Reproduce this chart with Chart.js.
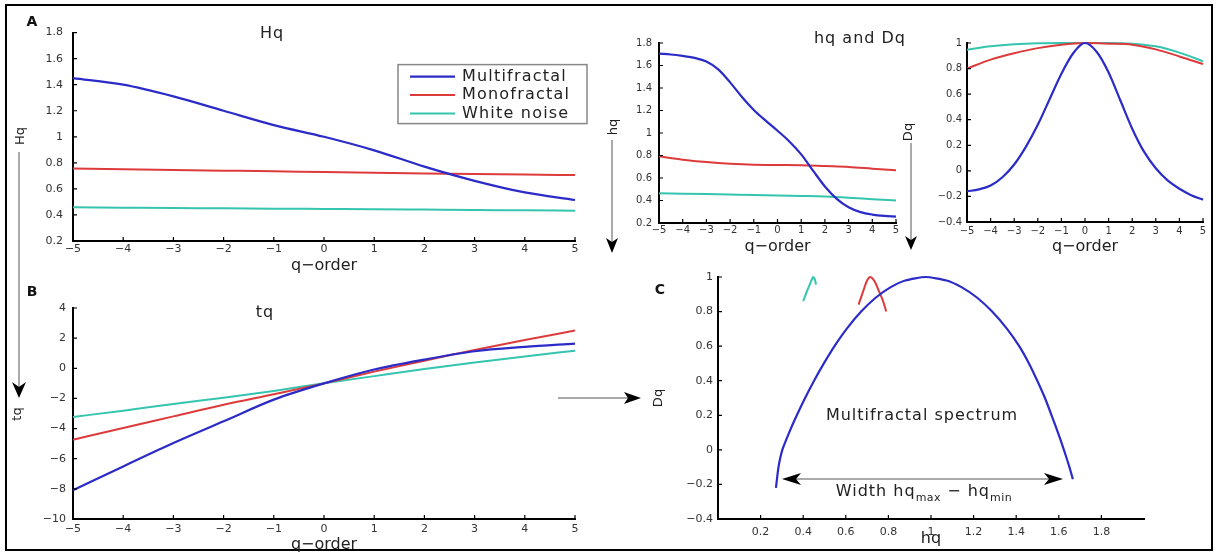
<!DOCTYPE html>
<html>
<head>
<meta charset="utf-8">
<script src="https://cdn.jsdelivr.net/npm/chart.js@4.4.1/dist/chart.umd.min.js"></script>
<style>
  html, body { margin: 0; padding: 0; background: #fff; overflow: hidden; }
  #stage { position: relative; width: 1217px; height: 555px; font-family: "DejaVu Sans", sans-serif; color: #222; }
  #stage canvas { position: absolute; }
  .t { position: absolute; transform: translate(-50%, -50%); white-space: nowrap; }
  .rot { transform: translate(-50%, -50%) rotate(-90deg); }
  .lbl { font-size: 16px; letter-spacing: 1px; }
  .yl { font-size: 13px; }
  .big { font-size: 16px; letter-spacing: 1px; }
  .letter { font-size: 14px; font-weight: bold; color: #111; }
  sub { font-size: 11px; vertical-align: -5px; letter-spacing: 0.5px; }
  #frame { position: absolute; left: 5px; top: 4px; width: 1204px; height: 543px; border: 2px solid #000; }
  svg { position: absolute; left: 0; top: 0; }
</style>
</head>
<body>
<div id="stage">
  <div id="frame"></div>
  <canvas id="chartA"></canvas>
  <canvas id="chartB"></canvas>
  <canvas id="chartH"></canvas>
  <canvas id="chartD"></canvas>
  <canvas id="chartC"></canvas>

  <svg width="1217" height="555">
    <g stroke="#555" stroke-width="1">
      <line x1="19" y1="152" x2="19" y2="388" />
      <line x1="612" y1="140" x2="612" y2="244" />
      <line x1="911" y1="143" x2="911" y2="242" />
      <line x1="558" y1="398" x2="630" y2="398" />
    </g>
    <line x1="790" y1="479" x2="1055" y2="479" stroke="#aaa" stroke-width="2" />
    <g fill="#000">
      <polygon points="12,382 19,398 26,382 19,387" />
      <polygon points="606,238 612,253 618,238 612,242" />
      <polygon points="905,236 911,250 917,236 911,240" />
      <polygon points="624,392 641,398 624,404 628,398" />
      <polygon points="782,479 801,473 796,479 801,485" />
      <polygon points="1063,479 1044,473 1049,479 1044,485" />
    </g>
  </svg>

  <div class="t letter" style="left:32px;top:21px">A</div>
  <div class="t letter" style="left:32px;top:291px">B</div>
  <div class="t letter" style="left:660px;top:289px">C</div>

  <div class="t lbl" style="left:272px;top:32px">Hq</div>
  <div class="t lbl" style="left:265px;top:311px">tq</div>
  <div class="t lbl" style="left:860px;top:37px">hq and Dq</div>

  <div class="t yl rot" style="left:19px;top:136px">Hq</div>
  <div class="t yl rot" style="left:16px;top:414px">tq</div>
  <div class="t yl rot" style="left:612px;top:127px">hq</div>
  <div class="t yl rot" style="left:907px;top:132px">Dq</div>
  <div class="t yl rot" style="left:657px;top:398px">Dq</div>

  <div class="t big" style="left:922px;top:414px">Multifractal spectrum</div>
  <div class="t big" style="left:924px;top:492px">Width hq<sub>max</sub> − hq<sub>min</sub></div>
</div>

<script>
// q values (integer and half steps)
const qInt = [-5, -4, -3, -2, -1, 0, 1, 2, 3, 4, 5];
const qHalf = [-5, -4.5, -4, -3.5, -3, -2.5, -2, -1.5, -1, -0.5, 0, 0.5, 1, 1.5, 2, 2.5, 3, 3.5, 4, 4.5, 5];

const seriesNames = ['Multifractal', 'Monofractal', 'White noise'];

// A: Hq
const HqMulti = [1.45, 1.40, 1.31, 1.20, 1.09, 1.0, 0.896, 0.771, 0.662, 0.573, 0.515];
const HqMono = [0.756, 0.750, 0.745, 0.740, 0.735, 0.729, 0.724, 0.719, 0.715, 0.710, 0.706];
const HqNoise = [0.459, 0.456, 0.453, 0.451, 0.448, 0.446, 0.444, 0.441, 0.438, 0.436, 0.433];

// B: tq
const tqMulti = [-8.1, -6.51, -4.96, -3.52, -2.08, -1.0, -0.08, 0.58, 1.13, 1.42, 1.64];
const tqMono = [-4.74, -3.96, -3.19, -2.42, -1.72, -1.0, -0.22, 0.50, 1.22, 1.88, 2.5];
const tqNoise = [-3.23, -2.81, -2.37, -1.95, -1.5, -1.0, -0.52, -0.05, 0.38, 0.78, 1.17];

// hq (half steps for multifractal)
const hqMulti = [1.705, 1.698, 1.685, 1.668, 1.635, 1.565, 1.45, 1.32, 1.205, 1.11, 1.02, 0.925, 0.81, 0.665, 0.525, 0.415, 0.34, 0.297, 0.275, 0.263, 0.257];
const hqMono = [0.793, 0.763, 0.742, 0.727, 0.718, 0.716, 0.714, 0.706, 0.698, 0.683, 0.668];
const hqNoise = [0.465, 0.461, 0.457, 0.453, 0.449, 0.444, 0.440, 0.435, 0.425, 0.412, 0.400];

// Dq (half steps for multifractal)
const DqMulti = [-0.16, -0.145, -0.115, -0.05, 0.05, 0.19, 0.36, 0.56, 0.76, 0.92, 1.0, 0.93, 0.77, 0.55, 0.33, 0.15, 0.02, -0.075, -0.14, -0.19, -0.225];
const DqMono = [0.80, 0.87, 0.92, 0.96, 0.987, 1.0, 0.995, 0.987, 0.95, 0.895, 0.836];
const DqNoise = [0.948, 0.974, 0.99, 0.998, 1.0, 1.0, 1.0, 0.995, 0.974, 0.925, 0.857];

// C: spectrum, Dq against hq
const specMultiH = [0.272, 0.284, 0.302, 0.334, 0.370, 0.409, 0.451, 0.497, 0.547, 0.604, 0.672, 0.740, 0.809, 0.879, 0.974,
  1.073, 1.145, 1.217, 1.287, 1.357, 1.414, 1.460, 1.499, 1.535, 1.566, 1.596, 1.624, 1.650, 1.666];
const specMultiD = [-0.22, -0.1, 0.0, 0.1, 0.2, 0.3, 0.4, 0.5, 0.6, 0.7, 0.8, 0.88, 0.94, 0.98, 1.0,
  0.98, 0.94, 0.88, 0.8, 0.7, 0.6, 0.5, 0.4, 0.3, 0.2, 0.1, 0.0, -0.1, -0.17];
const specMonoH = [0.66, 0.685, 0.70, 0.715, 0.735, 0.755, 0.775, 0.79];
const specMonoD = [0.84, 0.93, 0.98, 1.0, 0.975, 0.92, 0.86, 0.80];
const specNoiseH = [0.40, 0.415, 0.43, 0.447, 0.455, 0.46];
const specNoiseD = [0.86, 0.91, 0.955, 1.0, 0.985, 0.956];

const BLUE = '#2b2bc8';
const RED = '#dd3b3b';
const CYAN = '#35c4ae';
const FONT = '"DejaVu Sans", sans-serif';

function fmt(v) {
  return String(Math.round(v * 10) / 10).replace('-', '\u2212');
}

function series(label, xs, ys, color, width, smooth = 'monotone') {
  const ds = {
    label,
    data: xs.map((x, i) => ({ x, y: ys[i] })),
    borderColor: color,
    borderWidth: width,
    pointRadius: 0,
    fill: false,
    clip: 4
  };
  if (smooth === 'monotone') ds.cubicInterpolationMode = 'monotone';
  else ds.tension = smooth;
  return ds;
}

// MATLAB style ticks pointing into the plot
const inwardTicks = {
  id: 'inwardTicks',
  afterDraw(chart) {
    const { ctx, chartArea: a, scales: { x, y } } = chart;
    ctx.save();
    ctx.strokeStyle = '#000';
    ctx.lineWidth = 1.2;
    ctx.beginPath();
    x.ticks.forEach(t => {
      const p = x.getPixelForValue(t.value);
      ctx.moveTo(p, a.bottom);
      ctx.lineTo(p, a.bottom - 4);
    });
    y.ticks.forEach(t => {
      const p = y.getPixelForValue(t.value);
      ctx.moveTo(a.left, p);
      ctx.lineTo(a.left + 4, p);
    });
    ctx.stroke();
    ctx.restore();
  }
};

const boxLegend = {
  id: 'boxLegend',
  afterDraw(chart) {
    const { ctx, chartArea: a } = chart;
    const x = a.left + 325, y = a.top + 32, w = 189, h = 59;
    ctx.save();
    ctx.fillStyle = '#fff';
    ctx.fillRect(x, y, w, h);
    ctx.strokeStyle = '#888';
    ctx.lineWidth = 1.5;
    ctx.strokeRect(x, y, w, h);
    ctx.font = '16px ' + FONT;
    ctx.letterSpacing = '1.2px';
    ctx.textBaseline = 'middle';
    chart.data.datasets.forEach((ds, i) => {
      const ry = y + 12 + i * 18.5;
      ctx.strokeStyle = ds.borderColor;
      ctx.lineWidth = ds.borderWidth;
      ctx.beginPath();
      ctx.moveTo(x + 12, ry);
      ctx.lineTo(x + 57, ry);
      ctx.stroke();
      ctx.fillStyle = '#222';
      ctx.fillText(ds.label, x + 64, ry);
    });
    ctx.restore();
  }
};

// plot = [left, top, right, bottom] of the axes box on the page
function panel(id, plot, cfg) {
  const [l, t, r, b] = plot;
  const box = { x: l - 50, y: t - 15, w: r - l + 70, h: b - t + 60 };
  const cv = document.getElementById(id);
  cv.width = box.w;
  cv.height = box.h;
  cv.style.left = box.x + 'px';
  cv.style.top = box.y + 'px';
  const titleSize = 16;
  const tickFont = { family: FONT, size: cfg.tickSize || 11 };
  return new Chart(cv, {
    type: 'line',
    data: { datasets: cfg.datasets },
    options: {
      responsive: false,
      animation: false,
      events: [],
      layout: { padding: { left: 10, top: 15, right: 20, bottom: 5 } },
      plugins: { legend: { display: false }, tooltip: { enabled: false } },
      scales: {
        x: {
          type: 'linear',
          min: cfg.xRange[0],
          max: cfg.xRange[1],
          afterFit: s => { s.height = 40; },
          afterBuildTicks: cfg.xFilter,
          grid: { display: false, drawTicks: false },
          border: { color: '#000', width: 2 },
          ticks: { stepSize: cfg.xStep, padding: cfg.xPad, font: tickFont, color: '#333', maxRotation: 0, autoSkip: false, callback: fmt },
          title: {
            display: true,
            text: cfg.xTitle,
            color: '#222',
            font: { family: FONT, size: titleSize },
            padding: { top: 0, bottom: b + 40 - cfg.xTitleY - titleSize * 0.6 }
          }
        },
        y: {
          type: 'linear',
          min: cfg.yRange[0],
          max: cfg.yRange[1],
          afterFit: s => { s.width = 40; },
          grid: { display: false, drawTicks: false },
          border: { color: '#000', width: 2 },
          ticks: { stepSize: cfg.yStep, padding: cfg.yPad, font: tickFont, color: '#333', autoSkip: false, callback: fmt }
        }
      }
    },
    plugins: cfg.plugins || [inwardTicks]
  });
}

panel('chartA', [73, 31, 575, 241], {
  datasets: [
    series(seriesNames[0], qInt, HqMulti, BLUE, 2.2),
    series(seriesNames[1], qInt, HqMono, RED, 2),
    series(seriesNames[2], qInt, HqNoise, CYAN, 2)
  ],
  xRange: [-5, 5], xStep: 1, yRange: [0.2, 1.8], yStep: 0.2,
  xPad: 2, yPad: 10, xTitle: 'q\u2212order', xTitleY: 266,
  plugins: [inwardTicks, boxLegend]
});

panel('chartB', [73, 308, 575, 519], {
  datasets: [
    series(seriesNames[0], qInt, tqMulti, BLUE, 2.2),
    series(seriesNames[1], qInt, tqMono, RED, 2),
    series(seriesNames[2], qInt, tqNoise, CYAN, 2)
  ],
  xRange: [-5, 5], xStep: 1, yRange: [-10, 4], yStep: 2,
  xPad: 4, yPad: 7, xTitle: 'q\u2212order', xTitleY: 545
});

panel('chartH', [659, 43, 896, 223], {
  datasets: [
    series(seriesNames[0], qHalf, hqMulti, BLUE, 2.2),
    series(seriesNames[1], qInt, hqMono, RED, 2),
    series(seriesNames[2], qInt, hqNoise, CYAN, 2)
  ],
  xRange: [-5, 5], xStep: 1, yRange: [0.2, 1.8], yStep: 0.2, tickSize: 10,
  xPad: 1, yPad: 7, xTitle: 'q\u2212order', xTitleY: 247
});

panel('chartD', [967, 43, 1203, 222], {
  datasets: [
    series(seriesNames[0], qHalf, DqMulti, BLUE, 2.2),
    series(seriesNames[1], qInt, DqMono, RED, 2),
    series(seriesNames[2], qInt, DqNoise, CYAN, 2)
  ],
  xRange: [-5, 5], xStep: 1, yRange: [-0.4, 1], yStep: 0.2, tickSize: 10,
  xPad: 3, yPad: 5, xTitle: 'q\u2212order', xTitleY: 247
});

panel('chartC', [718, 277, 1144, 519], {
  datasets: [
    series(seriesNames[0], specMultiH, specMultiD, BLUE, 2.2, 0.2),
    series(seriesNames[1], specMonoH, specMonoD, RED, 2, 0.3),
    series(seriesNames[2], specNoiseH, specNoiseD, CYAN, 2, 0.3)
  ],
  xRange: [0, 2], xStep: 0.2, yRange: [-0.4, 1], yStep: 0.2,
  xFilter: s => { s.ticks = s.ticks.filter(t => t.value > 0.01 && t.value < 1.99); },
  xPad: 7, yPad: 5, xTitle: 'hq', xTitleY: 539
});
</script>
</body>
</html>
